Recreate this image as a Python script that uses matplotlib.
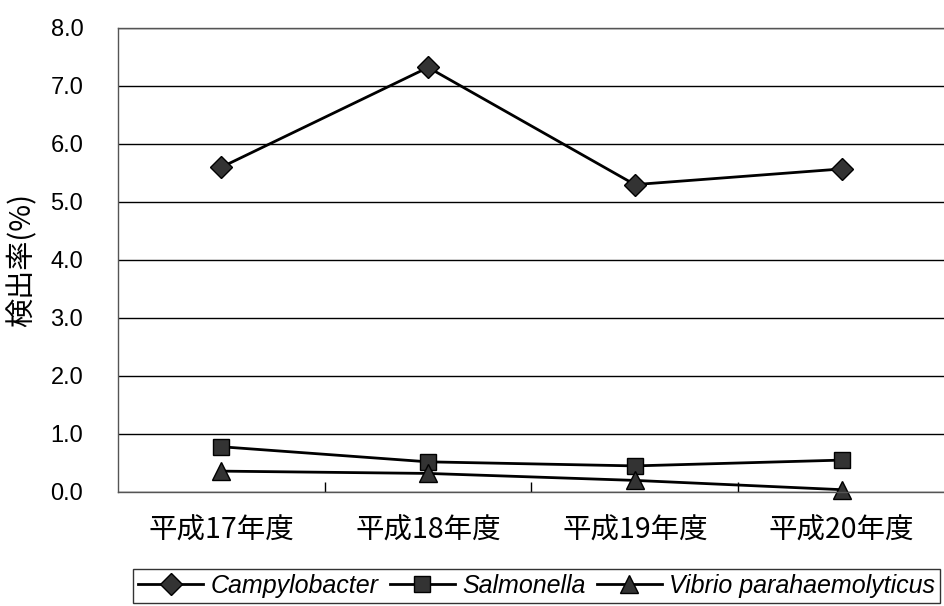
import matplotlib.pyplot as plt

plt.rcParams['font.family'] = ['Liberation Sans', 'Noto Sans CJK JP', 'DejaVu Sans']

years = ['平成17年度', '平成18年度', '平成19年度', '平成20年度']
campylobacter = [5.60, 7.32, 5.30, 5.57]
salmonella = [0.78, 0.52, 0.45, 0.55]
vibrio = [0.36, 0.32, 0.20, 0.04]

fig = plt.figure(figsize=(9.45, 6.06), dpi=100)
ax = fig.add_axes([118 / 945, 1 - 492 / 606, 827 / 945, 464 / 606])

x = range(len(years))
ax.plot(x, campylobacter, color='black', lw=2, marker='D', ms=11,
        mfc='#333333', mec='black', label='Campylobacter', clip_on=False)
ax.plot(x, salmonella, color='black', lw=2, marker='s', ms=12,
        mfc='#333333', mec='black', label='Salmonella', clip_on=False)
ax.plot(x, vibrio, color='black', lw=2, marker='^', ms=13,
        mfc='#333333', mec='black', label='Vibrio parahaemolyticus', clip_on=False)

ax.set_xlim(-0.5, 3.5)
ax.set_ylim(0, 8)
ax.set_yticks([i for i in range(9)])
ax.set_yticklabels(['%.1f' % i for i in range(9)], fontsize=17)
ax.set_xticks([0.5, 1.5, 2.5])
ax.set_xticklabels([])
ax.tick_params(axis='x', direction='in', length=7, width=1)
ax.tick_params(axis='y', length=0, pad=25)
for i, yr in enumerate(years):
    ax.text(i, -0.4, yr, ha='center', va='top', fontsize=20.5,
            family=['Noto Sans CJK JP', 'DejaVu Sans'])

ax.grid(axis='y', color='black', lw=1)
ax.set_axisbelow(True)
for s in ax.spines.values():
    s.set_linewidth(1)
    s.set_color('#555555')

ax.set_ylabel('検出率(%)', fontsize=21, family=['Noto Sans CJK JP', 'DejaVu Sans'])
ax.yaxis.set_label_coords(-0.097, 0.5)

leg = fig.legend(loc='lower left', bbox_to_anchor=(133 / 945, 3 / 606),
                 ncol=3, frameon=True, fancybox=False, edgecolor='black',
                 prop={'style': 'italic', 'size': 18}, handlelength=2.6, handletextpad=0.3,
                 columnspacing=0.45, borderpad=0.2, borderaxespad=0)
leg.get_frame().set_linewidth(1)

fig.savefig('out.png', dpi=100)
